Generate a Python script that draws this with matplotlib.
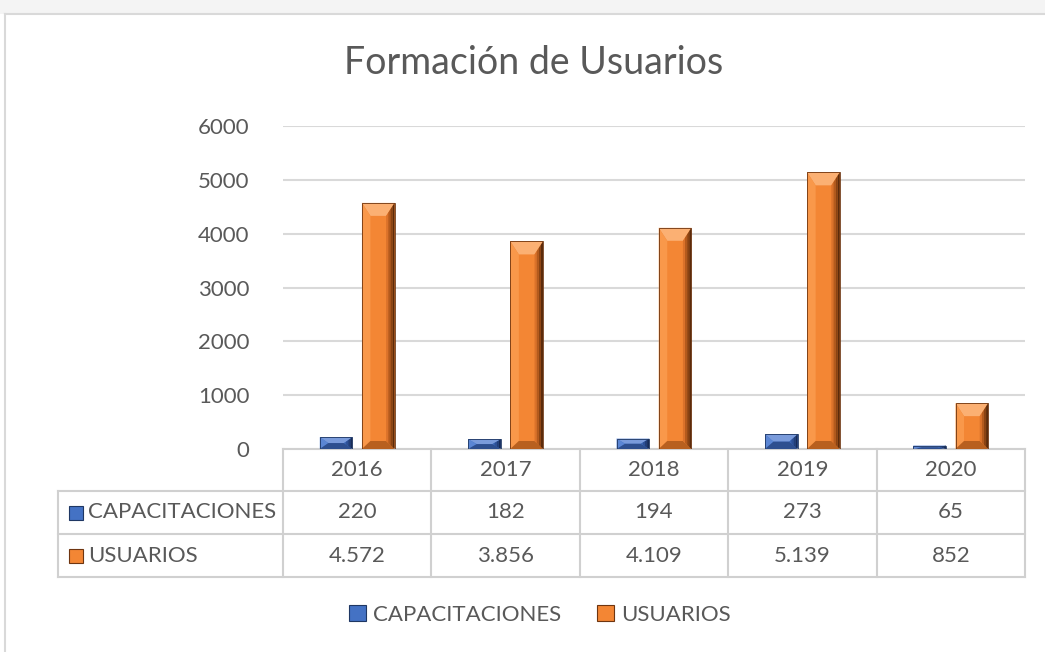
import matplotlib
matplotlib.use("Agg")
import matplotlib.pyplot as plt
from matplotlib.patches import Polygon, Rectangle, Patch
from matplotlib.transforms import blended_transform_factory

years = ["2016", "2017", "2018", "2019", "2020"]
capacitaciones = [220, 182, 194, 273, 65]
usuarios = [4572, 3856, 4109, 5139, 852]
series_names = ["CAPACITACIONES", "USUARIOS"]
yticks = [0, 1000, 2000, 3000, 4000, 5000, 6000]

FONT = "Lato"
TXT = "#595959"
BLUE = "#4472C4"
ORANGE = "#F38634"
shades = {
    BLUE: dict(top="#7A9BDB", left="#5B86D4", bottom="#2E4F8F",
               right=["#3A64B0", "#2D5096", "#223E78", "#172B57"], edge="#1F3763"),
    ORANGE: dict(top="#FBB073", left="#F9984A", bottom="#B8601F",
                 right=["#DB722A", "#B45A1D", "#8A4313", "#5C2B0B"], edge="#6E3510"),
}

W, H = 1045, 652
fig = plt.figure(figsize=(W / 100, H / 100), dpi=100)
fig.patch.set_facecolor("white")

# outer frame like a screenshot of a chart object
fig.patches.append(Rectangle((0, 1 - 14 / H), 1, 14 / H, transform=fig.transFigure,
                             facecolor="#F4F4F4", edgecolor="none", zorder=0))
fig.lines.append(plt.Line2D([5 / W, 5 / W], [0, 1 - 14 / H], transform=fig.transFigure,
                            color="#D9D9D9", lw=1.5))
fig.lines.append(plt.Line2D([5 / W, 1], [1 - 14 / H, 1 - 14 / H], transform=fig.transFigure,
                            color="#D9D9D9", lw=1.5))

ax_l, ax_r, ax_top, ax_bot = 283, 1025, 126, 449
ax = fig.add_axes([ax_l / W, 1 - ax_bot / H, (ax_r - ax_l) / W, (ax_bot - ax_top) / H])
ax.set_xlim(-0.5, len(years) - 0.5)
ax.set_ylim(0, 6000)
ax.set_yticks(yticks)
ax.set_yticklabels([str(t) for t in yticks], fontsize=16, color=TXT, family=FONT)
ax.tick_params(axis="y", length=0, pad=24)
ax.tick_params(axis="x", length=0, labelbottom=False)
for s in ax.spines.values():
    s.set_visible(False)
ax.grid(axis="y", color="#D9D9D9", lw=1.5)
ax.set_axisbelow(True)

bw = 0.22
off = 0.142
xs = range(len(years))
bars_c = ax.bar([x - off for x in xs], capacitaciones, bw, color=BLUE, zorder=2)
bars_u = ax.bar([x + off for x in xs], usuarios, bw, color=ORANGE, zorder=2)

px_per_unit = (ax_bot - ax_top) / 6000.0


def bevel(bar, col):
    x0, y0 = bar.get_x(), bar.get_y()
    w, h = bar.get_width(), bar.get_height()
    x1, y1 = x0 + w, y0 + h
    bx = w * 0.26
    by = min(13 / px_per_unit, h / 2)
    byb = min(8 / px_per_unit, h / 2)
    ix0, ix1, iy0, iy1 = x0 + bx, x1 - bx, y0 + byb, y1 - by
    c = shades[col]
    polys = [
        ([(x0, y1), (x1, y1), (ix1, iy1), (ix0, iy1)], c["top"]),
        ([(x0, y0), (x0, y1), (ix0, iy1), (ix0, iy0)], c["left"]),
        ([(x0, y0), (x1, y0), (ix1, iy0), (ix0, iy0)], c["bottom"]),
    ]
    for pts, fc in polys:
        ax.add_patch(Polygon(pts, closed=True, facecolor=fc, edgecolor="none", zorder=3))
    # right side with a darkening gradient in strips
    n = len(c["right"])
    for k, fc in enumerate(c["right"]):
        a, b = k / n, (k + 1) / n
        xa_o, xb_o = ix1 + (x1 - ix1) * a, ix1 + (x1 - ix1) * b
        ya_t = iy1 + (y1 - iy1) * a
        yb_t = iy1 + (y1 - iy1) * b
        ya_b = iy0 - (iy0 - y0) * a
        yb_b = iy0 - (iy0 - y0) * b
        pts = [(xa_o, ya_b), (xb_o, yb_b), (xb_o, yb_t), (xa_o, ya_t)]
        ax.add_patch(Polygon(pts, closed=True, facecolor=fc, edgecolor="none", zorder=3))
    ax.add_patch(Rectangle((x0, y0), w, h, facecolor="none", edgecolor=c["edge"],
                           lw=0.6, zorder=4))


for b in bars_c:
    bevel(b, BLUE)
for b in bars_u:
    bevel(b, ORANGE)

# title
fig.text(534 / W, 1 - 63 / H, "Formación de Usuarios", ha="center", va="center",
         fontsize=27, color=TXT, family=FONT)

# data table below the axis
tr = blended_transform_factory(ax.transData, ax.transAxes)
axh = ax_bot - ax_top
cat_px = (ax_r - ax_l) / len(years)
row_y = [0, -42 / axh, -85 / axh, -128 / axh]
left_x = -0.5 - (ax_l - 58) / cat_px
LC = "#D0D0D0"
lkw = dict(color=LC, lw=1.5, transform=tr, clip_on=False)

ax.plot([-0.5, len(years) - 0.5], [row_y[0]] * 2, **lkw)
for yy in row_y[1:]:
    ax.plot([left_x, len(years) - 0.5], [yy] * 2, **lkw)
for i in range(len(years) + 1):
    ax.plot([i - 0.5] * 2, [row_y[0], row_y[3]], **lkw)
ax.plot([left_x] * 2, [row_y[1], row_y[3]], **lkw)

tkw = dict(transform=tr, ha="center", va="center", fontsize=16, color=TXT, family=FONT,
           clip_on=False)
for i, yv in enumerate(years):
    ax.text(i, (row_y[0] + row_y[1]) / 2, yv, **tkw)


def fmt(v):
    return f"{v:,}".replace(",", ".")


rows = [capacitaciones, usuarios]
colors = [BLUE, ORANGE]
for r, (vals, name, col) in enumerate(zip(rows, series_names, colors)):
    yc = (row_y[r + 1] + row_y[r + 2]) / 2
    for i, v in enumerate(vals):
        ax.text(i, yc, fmt(v), **tkw)
    sx = -0.5 - (ax_l - 69) / cat_px
    sw = 14 / cat_px
    sh = 14 / axh
    ax.add_patch(Rectangle((sx, yc - sh / 2), sw, sh, transform=tr, facecolor=col,
                           edgecolor=shades[col]["edge"], lw=0.8, clip_on=False))
    ax.text(-0.5 - (ax_l - 88) / cat_px, yc, name, transform=tr, ha="left", va="center",
            fontsize=16, color=TXT, family=FONT, clip_on=False)

# legend
handles = [Patch(facecolor=c, edgecolor=shades[c]["edge"], lw=0.8) for c in colors]
leg = fig.legend(handles, series_names, loc="center", bbox_to_anchor=(540 / W, 1 - 615 / H),
                 ncol=2, frameon=False, handlelength=0.75, handleheight=0.75,
                 handletextpad=0.35, columnspacing=1.6, prop={"family": FONT, "size": 16})
for t in leg.get_texts():
    t.set_color(TXT)

fig.savefig("out.png", dpi=100)
